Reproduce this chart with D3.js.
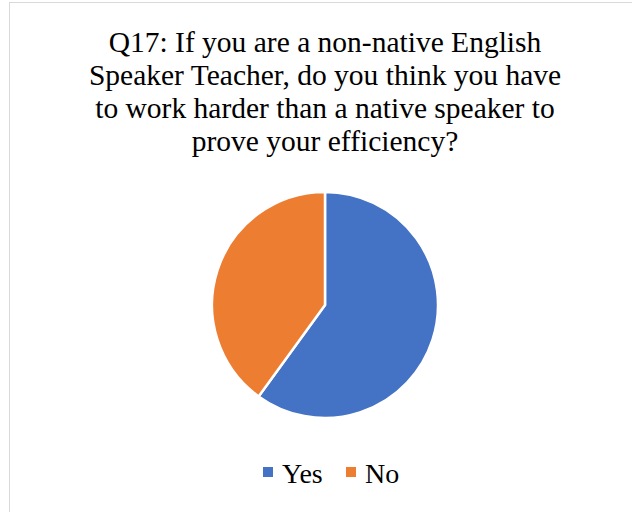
<!DOCTYPE html>
<html>
<head>
<meta charset="utf-8">
<script src="https://cdn.jsdelivr.net/npm/d3@7"></script>
<style>
  html, body { margin: 0; padding: 0; background: #fff; }
  svg { display: block; }
</style>
</head>
<body>
<svg id="chart" width="632" height="512"></svg>
<script>
const categories = ["Yes", "No"];
const values = [60, 40];
const titleLines = [
  "Q17: If you are a non-native English",
  "Speaker Teacher, do you think you have",
  "to work harder than a native speaker to",
  "prove your efficiency?"
];

const colors = d3.scaleOrdinal().domain(categories).range(["#4472C4", "#ED7D31"]);
const fontFamily = "'Liberation Serif', 'Times New Roman', serif";

const svg = d3.select("#chart");

// chart area frame
svg.append("rect")
  .attr("x", 9.5).attr("y", 2.5)
  .attr("width", 640).attr("height", 530)
  .attr("fill", "#fff")
  .attr("stroke", "#d9d9d9")
  .attr("stroke-width", 1);

// title
svg.append("g")
  .selectAll("text")
  .data(titleLines)
  .join("text")
  .attr("x", 325)
  .attr("y", (d, i) => 52 + i * 33)
  .attr("text-anchor", "middle")
  .attr("font-family", fontFamily)
  .attr("font-size", 29.5)
  .attr("fill", "#000")
  .text(d => d);

// pie
const data = categories.map((c, i) => ({ category: c, value: values[i] }));
const pie = d3.pie().value(d => d.value).sort(null);
const arc = d3.arc().innerRadius(0).outerRadius(113);

svg.append("g")
  .attr("transform", "translate(325,305)")
  .selectAll("path")
  .data(pie(data))
  .join("path")
  .attr("d", arc)
  .attr("fill", d => colors(d.data.category))
  .attr("stroke", "#fff")
  .attr("stroke-width", 2.5)
  .attr("stroke-linejoin", "round");

// legend
const legendItems = [
  { category: "Yes", x: 263 },
  { category: "No", x: 346 }
];
const legend = svg.append("g");
const item = legend.selectAll("g")
  .data(legendItems)
  .join("g")
  .attr("transform", d => `translate(${d.x},467)`);
item.append("rect")
  .attr("width", 10).attr("height", 10)
  .attr("fill", d => colors(d.category));
item.append("text")
  .attr("x", 19)
  .attr("y", 15.5)
  .attr("font-family", fontFamily)
  .attr("font-size", 28)
  .attr("fill", "#000")
  .text(d => d.category);
</script>
</body>
</html>
